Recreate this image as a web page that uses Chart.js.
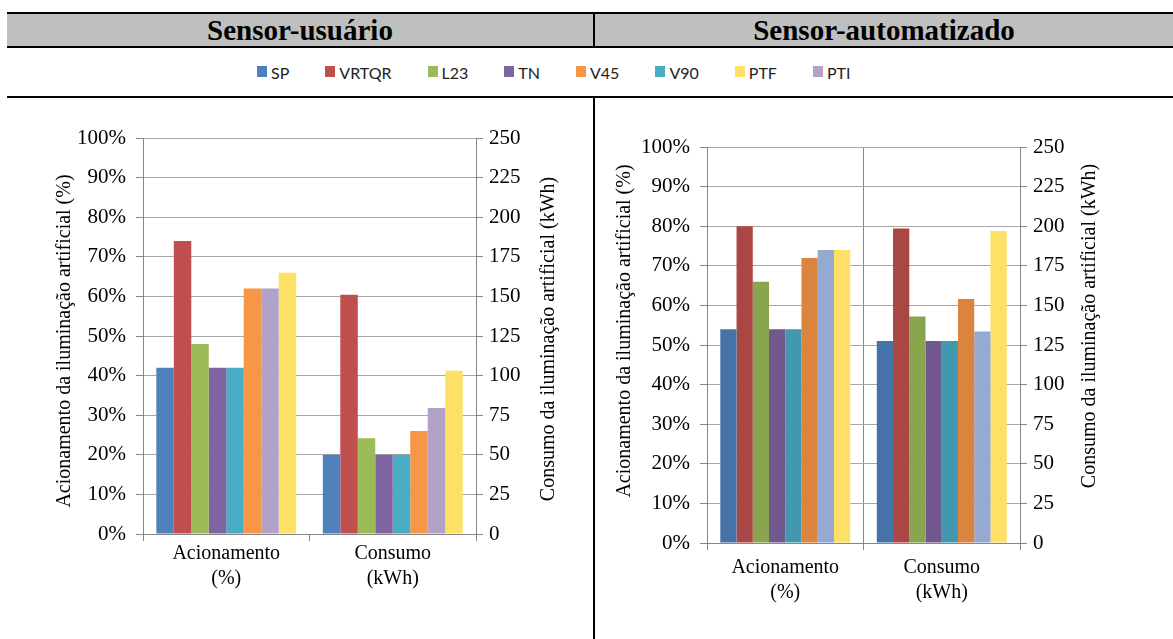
<!DOCTYPE html>
<html>
<head>
<meta charset="utf-8">
<script src="https://cdn.jsdelivr.net/npm/chart.js@4.4.0/dist/chart.umd.min.js"></script>
<style>
body { margin: 0; width: 1173px; height: 639px; background: #fff; position: relative; overflow: hidden; font-family: 'Liberation Serif', serif; }
.hline { position: absolute; left: 7px; right: 0; height: 2px; background: #000; }
.head { position: absolute; top: 14px; height: 32px; background: #bfbfbf; font-weight: bold; font-size: 29px; line-height: 33px; text-align: center; color: #000; }
.vline { position: absolute; left: 593px; width: 2px; background: #000; }
#legend { position: absolute; left: 257px; top: 63px; display: flex; gap: 36px; font-family: Lato, 'Open Sans', sans-serif; font-size: 16px; color: #222; }
.item { display: flex; align-items: center; }
.sw { width: 10px; height: 11px; margin-right: 4px; margin-top: -2px; }
.box { position: absolute; }
</style>
</head>
<body>
<div class="hline" style="top:12px"></div>
<div class="head" style="left:7px;width:586px">Sensor-usuário</div>
<div class="head" style="left:595px;right:0">Sensor-automatizado</div>
<div class="hline" style="top:46px"></div>
<div class="hline" style="top:96px"></div>
<div class="vline" style="top:12px;height:36px"></div>
<div class="vline" style="top:96px;height:543px"></div>
<div id="legend"></div>

<div class="box" style="left:40px;top:110px;width:530px;height:500px"><canvas id="chartUsuario"></canvas></div>
<div class="box" style="left:600px;top:120px;width:510px;height:500px"><canvas id="chartAutomatizado"></canvas></div>

<script>
// categorias e series (ordem das barras no grafico)
const categories = [['Acionamento', '(%)'], ['Consumo', '(kWh)']];
const seriesNames = ['SP', 'VRTQR', 'L23', 'TN', 'V90', 'V45', 'PTI', 'PTF'];
const legendOrder = ['SP', 'VRTQR', 'L23', 'TN', 'V45', 'V90', 'PTF', 'PTI'];

// Sensor-usuario
const usuarioAcionamento = [42, 74, 48, 42, 42, 62, 62, 66];       // %
const usuarioConsumo = [50, 151, 60.5, 50, 50, 65, 79.5, 103];      // kWh

// Sensor-automatizado
const automAcionamento = [54, 80, 66, 54, 54, 72, 74, 74];          // %
const automConsumo = [127.5, 198.5, 143, 127.5, 127.5, 154, 133.5, 197]; // kWh

const colorsUsuario = ['#4F81BD', '#C0504D', '#9BBB59', '#8064A2', '#4BACC6', '#F79646', '#B3A2C7', '#FFE066'];
const colorsAutom = ['#4572A7', '#AA4643', '#89A54E', '#71588F', '#4198AF', '#DB843D', '#95A9D1', '#FFE066'];

const titleLeft = 'Acionamento da iluminação artificial (%)';
const titleRight = 'Consumo da iluminação artificial (kWh)';

// legenda comum
const legend = document.getElementById('legend');
legendOrder.forEach(name => {
    const item = document.createElement('div');
    item.className = 'item';
    const sw = document.createElement('span');
    sw.className = 'sw';
    sw.style.background = colorsUsuario[seriesNames.indexOf(name)];
    const txt = document.createElement('span');
    txt.textContent = name;
    item.appendChild(sw);
    item.appendChild(txt);
    legend.appendChild(item);
});

// titulos dos eixos, os dois lidos de baixo para cima
const axisTitles = {
    id: 'axisTitles',
    afterDraw(chart, args, opts) {
        const ctx = chart.ctx;
        const area = chart.chartArea;
        ctx.save();
        ctx.fillStyle = '#000';
        ctx.font = '20px "Liberation Serif"';
        ctx.textAlign = 'center';
        ctx.textBaseline = 'middle';
        opts.items.forEach(t => {
            const s = chart.scales[t.axis];
            const x = t.axis === 'y' ? s.left + t.offset : s.right - t.offset;
            ctx.save();
            ctx.translate(x, (area.top + area.bottom) / 2 + t.dy);
            ctx.rotate(-Math.PI / 2);
            ctx.fillText(t.text, 0, 0);
            ctx.restore();
        });
        ctx.restore();
    }
};

function buildDatasets(acion, consumo, colors) {
    const ds = [];
    seriesNames.forEach((name, i) => {
        ds.push({ label: name, data: [acion[i], null], yAxisID: 'y', backgroundColor: colors[i], skipNull: true });
        ds.push({ label: name, data: [null, consumo[i]], yAxisID: 'y1', backgroundColor: colors[i], skipNull: true });
    });
    return ds;
}

function makeChart(id, acion, consumo, colors, cfg) {
    const tickFont = { family: 'Liberation Serif', size: 20 };
    const yFont = { family: 'Liberation Serif', size: 21 };
    return new Chart(document.getElementById(id), {
        type: 'bar',
        data: { labels: categories, datasets: buildDatasets(acion, consumo, colors) },
        plugins: [axisTitles],
        options: {
            responsive: true,
            maintainAspectRatio: false,
            animation: false,
            layout: { padding: { top: cfg.top, left: 0, right: 0, bottom: 0 } },
            datasets: { bar: { categoryPercentage: cfg.catPct, barPercentage: 1 } },
            plugins: {
                legend: { display: false },
                tooltip: { enabled: false },
                axisTitles: { items: cfg.titles }
            },
            scales: {
                x: {
                    afterFit: s => { s.height = cfg.xHeight; },
                    border: { color: '#868686' },
                    grid: { offset: true, drawOnChartArea: cfg.vGrid, color: '#868686', tickLength: 7 },
                    ticks: { color: '#000', font: { ...tickFont, lineHeight: 1.25 }, padding: cfg.xPad, maxRotation: 0 }
                },
                y: {
                    position: 'left',
                    min: 0, max: 100,
                    afterFit: s => { s.width = cfg.leftW; },
                    border: { color: '#868686' },
                    grid: { color: '#A6A6A6', tickColor: '#868686', tickLength: 7 },
                    ticks: { stepSize: 10, color: '#000', font: yFont, padding: 10, callback: v => v + '%' }
                },
                y1: {
                    position: 'right',
                    min: 0, max: 250,
                    afterFit: s => { s.width = cfg.rightW; },
                    border: { color: '#868686' },
                    grid: { drawOnChartArea: false, color: '#868686', tickLength: 7 },
                    ticks: { stepSize: 25, color: '#000', font: yFont, padding: 6 }
                }
            }
        }
    });
}

makeChart('chartUsuario', usuarioAcionamento, usuarioConsumo, colorsUsuario, {
    top: 28, xHeight: 76, leftW: 103, rightW: 94, catPct: 0.84, vGrid: false, xPad: 0,
    titles: [
        { axis: 'y', text: titleLeft, offset: 25, dy: 5 },
        { axis: 'y1', text: titleRight, offset: 21, dy: 3 }
    ]
});

makeChart('chartAutomatizado', automAcionamento, automConsumo, colorsAutom, {
    top: 27, xHeight: 77, leftW: 107, rightW: 90, catPct: 0.83, vGrid: true, xPad: 5,
    titles: [
        { axis: 'y', text: titleLeft, offset: 25, dy: -14 },
        { axis: 'y1', text: titleRight, offset: 20, dy: -19 }
    ]
});
</script>
</body>
</html>
